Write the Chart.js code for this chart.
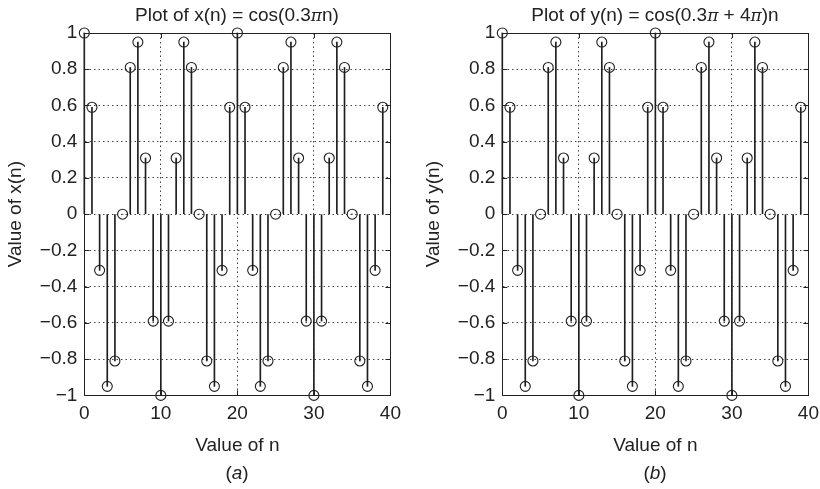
<!DOCTYPE html>
<html>
<head>
<meta charset="utf-8">
<script src="https://cdn.jsdelivr.net/npm/chart.js@4.4.1/dist/chart.umd.min.js"></script>
<style>
  html, body { margin: 0; padding: 0; background: #fff; }
  body { width: 820px; height: 489px; position: relative; overflow: hidden; font-family: "Liberation Sans", Arial, sans-serif; }
  .box { position: absolute; top: 0; width: 408px; height: 489px; }
  .cap { position: absolute; top: 461px; width: 60px; text-align: center; font-size: 19px; line-height: 23px; color: #222; }
  .ttl { position: absolute; top: 3px; width: 340px; text-align: center; font-size: 19px; line-height: 23px; color: #222; white-space: nowrap; }
  .pi { font-family: "DejaVu Serif", serif; font-style: italic; font-size: 17px; }
</style>
</head>
<body>
<div class="box" style="left:0px"><canvas id="chartA"></canvas></div>
<div class="box" style="left:418px"><canvas id="chartB"></canvas></div>
<div class="ttl" style="left:67px">Plot of x(n) = cos(0.3<span class="pi">π</span>n)</div>
<div class="ttl" style="left:485px">Plot of y(n) = cos(0.3<span class="pi">π</span> + 4<span class="pi">π</span>)n</div>
<div class="cap" style="left:207px">(<i>a</i>)</div>
<div class="cap" style="left:625px">(<i>b</i>)</div>
<script>
// sample index n
var nValues = [0, 1, 2, 3, 4, 5, 6, 7, 8, 9, 10, 11, 12, 13, 14, 15, 16, 17, 18, 19,
               20, 21, 22, 23, 24, 25, 26, 27, 28, 29, 30, 31, 32, 33, 34, 35, 36, 37, 38, 39];
// x(n)
var xValues = [1, 0.59, -0.31, -0.95, -0.81, 0, 0.81, 0.95, 0.31, -0.59,
               -1, -0.59, 0.31, 0.95, 0.81, 0, -0.81, -0.95, -0.31, 0.59,
               1, 0.59, -0.31, -0.95, -0.81, 0, 0.81, 0.95, 0.31, -0.59,
               -1, -0.59, 0.31, 0.95, 0.81, 0, -0.81, -0.95, -0.31, 0.59];
// y(n)
var yValues = [1, 0.59, -0.31, -0.95, -0.81, 0, 0.81, 0.95, 0.31, -0.59,
               -1, -0.59, 0.31, 0.95, 0.81, 0, -0.81, -0.95, -0.31, 0.59,
               1, 0.59, -0.31, -0.95, -0.81, 0, 0.81, 0.95, 0.31, -0.59,
               -1, -0.59, 0.31, 0.95, 0.81, 0, -0.81, -0.95, -0.31, 0.59];
var xTicks = [0, 10, 20, 30, 40];
var yTicks = [-1, -0.8, -0.6, -0.4, -0.2, 0, 0.2, 0.4, 0.6, 0.8, 1];

var FONT = "'Liberation Sans', Arial, Helvetica, sans-serif";

// box outline plus short inward tick marks on all four sides
var boxPlugin = {
  id: 'matlabBox',
  afterDatasetsDraw: function(chart) {
    var ctx = chart.ctx, a = chart.chartArea;
    var sx = chart.scales.x, sy = chart.scales.y;
    ctx.save();
    ctx.strokeStyle = '#222';
    ctx.lineWidth = 1;
    ctx.beginPath();
    xTicks.forEach(function(t) {
      var px = Math.round(sx.getPixelForValue(t)) + 0.5;
      ctx.moveTo(px, a.bottom); ctx.lineTo(px, a.bottom - 5);
      ctx.moveTo(px, a.top); ctx.lineTo(px, a.top + 5);
    });
    yTicks.forEach(function(t) {
      var py = Math.round(sy.getPixelForValue(t)) + 0.5;
      ctx.moveTo(a.left, py); ctx.lineTo(a.left + 5, py);
      ctx.moveTo(a.right, py); ctx.lineTo(a.right - 5, py);
    });
    ctx.stroke();
    ctx.strokeRect(Math.round(a.left) + 0.5, Math.round(a.top) + 0.5,
                   Math.round(a.right - a.left), Math.round(a.bottom - a.top));
    ctx.restore();
  }
};

function fmt(v) {
  var r = Math.round(v * 10) / 10;
  return String(r).replace('-', '\u2212');
}

function makeStemChart(id, ylabel, values) {
  var stems = nValues.map(function(n, i) { return { x: n, y: [0, values[i]] }; });
  var heads = nValues.map(function(n, i) { return { x: n, y: values[i] }; });
  new Chart(document.getElementById(id), {
    data: {
      datasets: [
        {
          type: 'bar',
          data: stems,
          backgroundColor: '#1e1e1e',
          borderWidth: 0,
          barThickness: 1,
          clip: false,
          order: 2
        },
        {
          type: 'scatter',
          data: heads,
          showLine: false,
          pointStyle: 'circle',
          pointRadius: 5,
          pointHoverRadius: 5,
          pointBackgroundColor: 'rgba(0,0,0,0)',
          pointBorderColor: '#1e1e1e',
          pointBorderWidth: 1.1,
          clip: false,
          order: 1
        }
      ]
    },
    options: {
      responsive: true,
      maintainAspectRatio: false,
      animation: false,
      events: [],
      layout: { padding: { left: 0, right: 6, top: 33, bottom: 32 } },
      plugins: {
        legend: { display: false },
        tooltip: { enabled: false }
      },
      scales: {
        x: {
          type: 'linear',
          min: 0,
          max: 40,
          offset: false,
          afterBuildTicks: function(s) { s.ticks = xTicks.map(function(v) { return { value: v }; }); },
          ticks: { color: '#222', padding: 7, font: { family: FONT, size: 19 }, maxRotation: 0 },
          grid: { color: '#444', lineWidth: 1, drawTicks: false, offset: false },
          border: { display: true, color: '#222', dash: [1.5, 3] },
          title: {
            display: true,
            text: 'Value of n',
            color: '#222',
            font: { family: FONT, size: 19 },
            padding: { top: 2, bottom: 0 }
          }
        },
        y: {
          min: -1,
          max: 1,
          afterBuildTicks: function(s) { s.ticks = yTicks.map(function(v) { return { value: v }; }); },
          ticks: {
            color: '#222', padding: 7, font: { family: FONT, size: 19 },
            callback: function(v) { return fmt(v); }
          },
          grid: { color: '#444', lineWidth: 1, drawTicks: false },
          border: { display: true, color: '#222', dash: [1.5, 3] },
          title: {
            display: true,
            text: ylabel,
            color: '#222',
            font: { family: FONT, size: 19 },
            padding: { top: 4, bottom: 6 }
          }
        }
      }
    },
    plugins: [boxPlugin]
  });
}

makeStemChart('chartA', 'Value of x(n)', xValues);
makeStemChart('chartB', 'Value of y(n)', yValues);
</script>
</body>
</html>
